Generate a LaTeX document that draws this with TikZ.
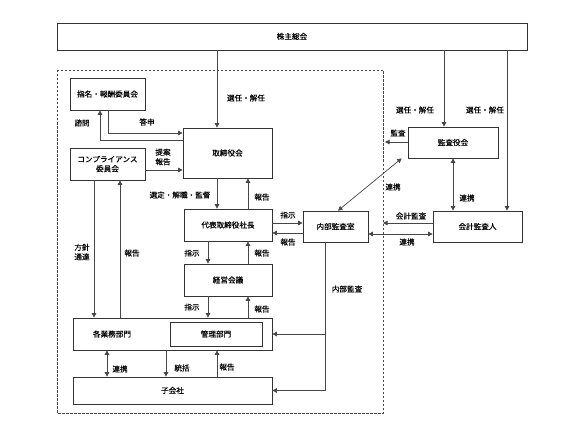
\documentclass[tikz,border=0pt]{standalone}
\usepackage{fontspec}
\setmainfont{Noto Sans CJK JP}[FakeBold=0.15]
\usetikzlibrary{arrows.meta}
\begin{document}
\begin{tikzpicture}[x=1pt,y=-1pt,
  every node/.style={font=\fontsize{7.6}{9.5}\selectfont, inner sep=0pt, text=black},
  box/.style={draw=black!80, line width=0.7pt, fill=white, anchor=center},
  lbl/.style={align=center},
  ln/.style={draw=black!72, line width=0.7pt},
  arr/.style={ln, -{Triangle[length=4.5pt,width=4.5pt]}},
  darr/.style={ln, {Triangle[length=4.5pt,width=4.5pt]}-{Triangle[length=4.5pt,width=4.5pt]}}]
\useasboundingbox (0,0) rectangle (567,433);
% dashed frame
\draw[black!72, line width=0.7pt, dash pattern=on 2.5pt off 1.5pt] (57,70) rectangle (383,413);
% boxes
\node[box, minimum width=470, minimum height=27] (sh) at (292,36.5) {株主総会};
\node[box, minimum width=75, minimum height=32] (nom) at (107.5,94) {指名・報酬委員会};
\node[box, minimum width=75, minimum height=32, align=center] (comp) at (107.5,164) {コンプライアンス\\委員会};
\node[box, minimum width=89, minimum height=50] (bod) at (227.5,153) {取締役会};
\node[box, minimum width=88, minimum height=32] (ceo) at (228,225) {代表取締役社長};
\node[box, minimum width=88, minimum height=32] (mgm) at (228,280) {経営会議};
\node[box, minimum width=199, minimum height=32] (biz) at (172.5,334) {};
\node (biztext) at (112,334) {各業務部門};
\node[box, minimum width=92, minimum height=24] (adm) at (216,334) {管理部門};
\node[box, minimum width=199, minimum height=27] (sub) at (172.5,390.5) {子会社};
\node[box, minimum width=65, minimum height=31] (ia) at (335.5,226.5) {内部監査室};
\node[box, minimum width=90, minimum height=31] (kan) at (453,142.5) {監査役会};
\node[box, minimum width=89, minimum height=31] (acc) at (477.5,226.5) {会計監査人};
% helper coordinates
\coordinate (x94) at (94,0);
\coordinate (x100) at (100,0);
\coordinate (x107) at (107,0);
\coordinate (x108) at (108,0);
\coordinate (x120) at (120,0);
\coordinate (x166) at (166,0);
\coordinate (x208) at (208,0);
\coordinate (x217) at (217,0);
\coordinate (x248) at (248,0);
\coordinate (x325) at (325,0);
\coordinate (x385) at (385,0);
\coordinate (x383) at (383,0);
\coordinate (x444) at (444,0);
\coordinate (x453) at (453,0);
\coordinate (x507) at (507,0);
\coordinate (y133) at (0,133);
\coordinate (y140) at (0,140);
\coordinate (y170) at (0,170);
\coordinate (y223) at (0,223);
\coordinate (y233) at (0,233);
\coordinate (y142) at (0,142);
\coordinate (y234) at (0,234);
% shareholders to boards
\draw[arr] (sh.south -| x217) -- (bod.north -| x217);
\draw[arr] (sh.south -| x444) -- (kan.north -| x444);
\draw[arr] (sh.south -| x507) -- (acc.north -| x507);
% nomination committee
\draw[arr] (nom.south -| x108) -- (x108 |- y133) -- (bod.west |- y133);
\draw[arr] (bod.west |- y140) -- (x100 |- y140) -- (nom.south -| x100);
% compliance
\draw[arr] (comp.east |- y170) -- (bod.west |- y170);
\draw[arr] (comp.south -| x94) -- (biz.north -| x94);
\draw[arr] (biz.north -| x120) -- (comp.south -| x120);
% board / ceo / management
\draw[arr] (bod.south -| x217) -- (ceo.north -| x217);
\draw[arr] (ceo.north -| x248) -- (bod.south -| x248);
\draw[arr] (ceo.south -| x208) -- (mgm.north -| x208);
\draw[arr] (mgm.north -| x248) -- (ceo.south -| x248);
\draw[arr] (mgm.south -| x208) -- (biz.north -| x208);
\draw[arr] (biz.north -| x248) -- (mgm.south -| x248);
% business / subsidiaries
\draw[darr] (biz.south -| x107) -- (sub.north -| x107);
\draw[arr] (biz.south -| x166) -- (sub.north -| x166);
\draw[arr] (sub.north -| x217) -- (biz.south -| x217);
% ceo / internal audit
\draw[arr] (ceo.east |- y223) -- (ia.west |- y223);
\draw[arr] (ia.west |- y233) -- (ceo.east |- y233);
\draw[ln] (ia.south -| x325) -- (x325 |- sub.east);
\draw[arr] (x325 |- biz.east) -- (biz.east);
\draw[arr] (x325 |- sub.east) -- (sub.east);
% audit board
\draw[arr] (kan.west |- y142) -- (x385 |- y142);
\draw[darr] ([xshift=-6pt]kan.south west) -- ([xshift=2.5pt]ia.north);
\draw[darr] (kan.south -| x453) -- (acc.north -| x453);
\draw[arr] (acc.west |- y223) -- (x383 |- y223);
\draw[darr] (ia.east |- y234) -- (acc.west |- y234);
% labels
\node[lbl] (l1) at (246,98) {選任・解任};
\node[lbl] (l2) at (147,122) {答申};
\node[lbl] (l3) at (82,123) {諮問};
\node[lbl] (l4) at (163,157) {提案\\報告};
\node[lbl] (l5) at (180,195) {選定・解職・監督};
\node[lbl] (l6) at (262,197) {報告};
\node[lbl] (l7) at (192,253) {指示};
\node[lbl] (l8) at (262,253) {報告};
\node[lbl] (l9) at (192,307) {指示};
\node[lbl] (l10) at (262,309) {報告};
\node[lbl] (l11) at (82,252) {方針\\通達};
\node[lbl] (l12) at (132,253) {報告};
\node[lbl] (l13) at (120,369) {連携};
\node[lbl] (l14) at (182,368) {統括};
\node[lbl] (l15) at (227,367) {報告};
\node[lbl] (l16) at (288,215) {指示};
\node[lbl] (l17) at (288,242) {報告};
\node[lbl] (l18) at (347,289) {内部監査};
\node[lbl] (l19) at (415,110) {選任・解任};
\node[lbl] (l20) at (485,110) {選任・解任};
\node[lbl] (l21) at (398,133) {監査};
\node[lbl] (l22) at (393,187) {連携};
\node[lbl] (l23) at (467,198) {連携};
\node[lbl] (l24) at (411,216) {会計監査};
\node[lbl] (l25) at (407,242) {連携};
\end{tikzpicture}
\end{document}
